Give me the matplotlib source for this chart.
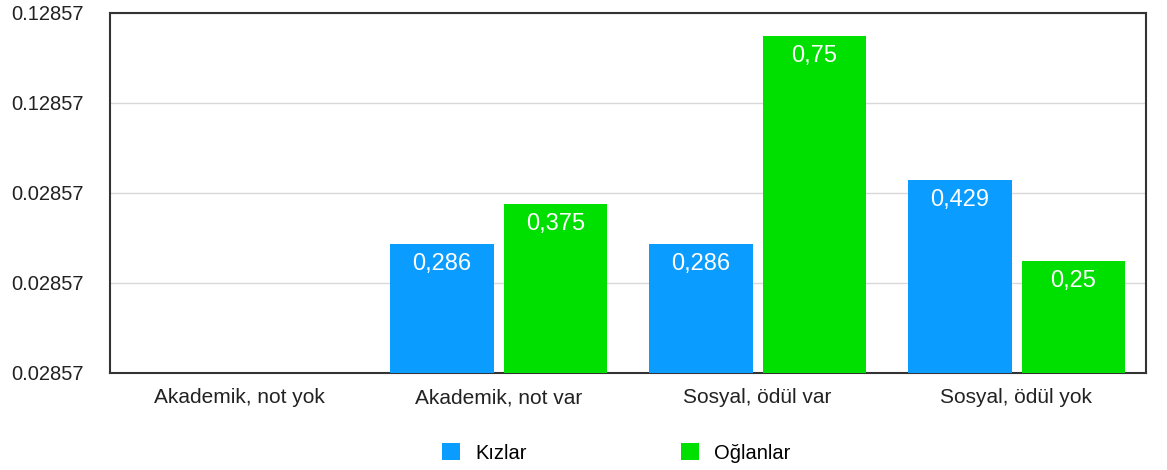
import matplotlib
matplotlib.use("Agg")
import matplotlib.pyplot as plt
import numpy as np

categories = ["Akademik, not yok", "Akademik, not var", "Sosyal, ödül var", "Sosyal, ödül yok"]
kizlar = [0.0, 0.286, 0.286, 0.429]
oglanlar = [0.0, 0.375, 0.75, 0.25]
kizlar_labels = ["", "0,286", "0,286", "0,429"]
oglanlar_labels = ["", "0,375", "0,75", "0,25"]
series_names = ["Kızlar", "Oğlanlar"]
ytick_values = [0.0, 0.2, 0.4, 0.6, 0.8]
ytick_labels = ["0.02857", "0.02857", "0.02857", "0.12857", "0.12857"]

plt.rcParams['font.family'] = ['Liberation Sans', 'DejaVu Sans']

fig = plt.figure(figsize=(11.67, 4.70), dpi=100)
ax = fig.add_axes([110/1167, 1-373/470, (1146-110)/1167, (373-13)/470])

x = np.arange(len(categories))
w = 0.40
blue = "#0a9cff"
green = "#00e000"
b1 = ax.bar(x - 0.218, kizlar, w, color=blue, label=series_names[0], zorder=3)
b2 = ax.bar(x + 0.22, oglanlar, w, color=green, label=series_names[1], zorder=3)

for bars, labels in ((b1, kizlar_labels), (b2, oglanlar_labels)):
    for rect, lab in zip(bars, labels):
        if lab:
            ax.annotate(lab, (rect.get_x() + rect.get_width()/2, rect.get_height()),
                        xytext=(0, -14.5), textcoords="offset points",
                        ha="center", va="center", color="white", fontsize=17, zorder=4)

ax.set_xlim(-0.5, 3.5)
ax.set_ylim(0, 0.8)
ax.set_yticks(ytick_values)
ax.set_yticklabels(ytick_labels)
ax.set_xticks(x)
ax.set_xticklabels(categories)
ax.tick_params(axis='y', length=0, labelsize=14.5, colors="#222222", pad=19)
ax.tick_params(axis='x', length=0, labelsize=15, colors="#222222", pad=11)
ax.yaxis.grid(True, color="#d9d9d9", linewidth=1, zorder=0)
ax.set_axisbelow(True)
for s in ax.spines.values():
    s.set_color("#333333")
    s.set_linewidth(1.5)

fig.legend(handles=[b1, b2], labels=series_names, loc="center", bbox_to_anchor=(0.528, 1 - 453/470),
           ncol=2, frameon=False, fontsize=14.5, handlelength=0.9, handleheight=0.9,
           handletextpad=0.75, columnspacing=7.65)

fig.savefig("out.png", dpi=100, facecolor="white")
